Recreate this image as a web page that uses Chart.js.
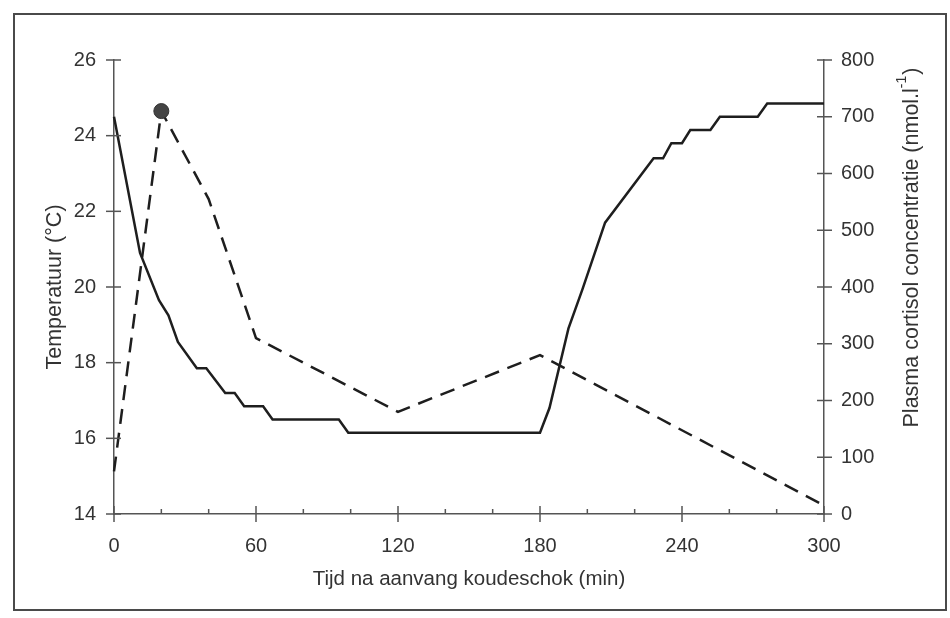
<!DOCTYPE html>
<html><head><meta charset="utf-8">
<script src="https://cdn.jsdelivr.net/npm/chart.js@4.4.0/dist/chart.umd.min.js"></script>
<style>html,body{margin:0;padding:0;background:#fff}canvas{display:block}</style>
</head><body>
<canvas id="c" width="950" height="618"></canvas>
<script>
// ---- data ----
const tempTimes  = [0, 11, 19, 23, 27, 35, 39, 47, 51, 55, 63, 67, 95, 99, 180, 184, 192, 198, 207.5, 228, 232, 235.5, 240, 243.5, 252, 256, 272, 276, 300];
const tempValues = [24.5, 20.9, 19.65, 19.25, 18.55, 17.85, 17.85, 17.2, 17.2, 16.85, 16.85, 16.5, 16.5, 16.15, 16.15, 16.8, 18.9, 19.95, 21.7, 23.4, 23.4, 23.8, 23.8, 24.15, 24.15, 24.5, 24.5, 24.85, 24.85];
const cortisolTimes  = [0, 20, 40, 60, 120, 180, 300];
const cortisolValues = [75, 710, 555, 310, 180, 280, 15];
const xLabelTicks = [0, 60, 120, 180, 240, 300];
const xTitle = 'Tijd na aanvang koudeschok (min)';
const leftTitle = 'Temperatuur (°C)';
const rightTitleMain = 'Plasma cortisol concentratie (nmol.l';
const rightTitleSup = '-1';
const rightTitleEnd = ')';

const FONT = "'Liberation Sans', Arial, sans-serif";
const AXIS = '#555';
const TEXT = '#333';
const peakIndex = cortisolValues.indexOf(Math.max(...cortisolValues));

const tickPlugin = {
  id: 'ticksAndFrame',
  beforeDraw(chart) {
    const ctx = chart.ctx;
    ctx.save();
    ctx.fillStyle = '#fff';
    ctx.fillRect(0, 0, chart.width, chart.height);
    ctx.strokeStyle = '#4a4a4a';
    ctx.lineWidth = 2;
    ctx.strokeRect(14, 14, 932, 596);
    ctx.restore();
  },
  afterDraw(chart) {
    const ctx = chart.ctx;
    const {x, y, y2} = chart.scales;
    ctx.save();
    ctx.strokeStyle = AXIS;
    ctx.lineWidth = 1.5;
    const line = (a, b, c, d) => { ctx.beginPath(); ctx.moveTo(a, b); ctx.lineTo(c, d); ctx.stroke(); };
    y.ticks.forEach(t => { const p = y.getPixelForValue(t.value); line(y.right - 8, p, y.right + 7, p); });
    y2.ticks.forEach(t => { const p = y2.getPixelForValue(t.value); line(y2.left - 7, p, y2.left + 8, p); });
    x.ticks.forEach(t => {
      const p = x.getPixelForValue(t.value);
      if (xLabelTicks.includes(t.value)) line(p, x.top - 8, p, x.top + 8);
      else line(p, x.top - 5, p, x.top);
    });
    // right axis title, reading bottom to top
    ctx.fillStyle = TEXT;
    ctx.translate(912, 248);
    ctx.rotate(-Math.PI / 2);
    ctx.font = '21.5px ' + FONT;
    const w1 = ctx.measureText(rightTitleMain).width;
    ctx.font = '14px ' + FONT;
    const w2 = ctx.measureText(rightTitleSup).width;
    ctx.font = '21.5px ' + FONT;
    const w3 = ctx.measureText(rightTitleEnd).width;
    let sx = -(w1 + w2 + w3) / 2;
    ctx.textBaseline = 'middle';
    ctx.textAlign = 'left';
    ctx.fillText(rightTitleMain, sx, 0);
    ctx.font = '14px ' + FONT;
    ctx.fillText(rightTitleSup, sx + w1, -10);
    ctx.font = '21.5px ' + FONT;
    ctx.fillText(rightTitleEnd, sx + w1 + w2 + 1, 0);
    ctx.restore();
  }
};

new Chart(document.getElementById('c'), {
  type: 'line',
  data: {
    datasets: [
      {
        label: 'Temperatuur',
        data: tempTimes.map((t, i) => ({x: t, y: tempValues[i]})),
        yAxisID: 'y',
        borderColor: '#1e1e1e',
        borderWidth: 2.5,
        pointRadius: 0,
        tension: 0,
        clip: false
      },
      {
        label: 'Cortisol',
        data: cortisolTimes.map((t, i) => ({x: t, y: cortisolValues[i]})),
        yAxisID: 'y2',
        borderColor: '#1e1e1e',
        borderWidth: 2.5,
        borderDash: [15, 9],
        pointRadius: ctx => ctx.dataIndex === peakIndex ? 7.5 : 0,
        pointBackgroundColor: '#444',
        pointBorderColor: '#333',
        pointBorderWidth: 1,
        tension: 0,
        clip: false
      }
    ]
  },
  options: {
    responsive: false,
    animation: false,
    devicePixelRatio: 1,
    layout: {padding: {top: 60, left: 0, right: 0, bottom: 0}},
    plugins: {legend: {display: false}, tooltip: {enabled: false}},
    scales: {
      x: {
        type: 'linear', position: 'bottom', min: 0, max: 300,
        afterFit: s => { s.height = 104; },
        ticks: {stepSize: 20, autoSkip: false, maxRotation: 0, padding: 20, color: TEXT,
          font: {family: FONT, size: 20},
          callback: v => xLabelTicks.includes(v) ? String(v) : ''},
        grid: {display: false, drawTicks: false},
        border: {display: true, color: AXIS, width: 1.5},
        title: {display: true, text: xTitle, color: TEXT, font: {family: FONT, size: 20.5}, padding: {top: 0, bottom: 26}}
      },
      y: {
        type: 'linear', position: 'left', min: 14, max: 26,
        afterFit: s => { s.width = 114; },
        ticks: {stepSize: 2, padding: 18, color: TEXT, font: {family: FONT, size: 20}},
        grid: {display: false, drawTicks: false},
        border: {display: true, color: AXIS, width: 1.5},
        title: {display: true, text: leftTitle, color: TEXT, font: {family: FONT, size: 21.5}, padding: {top: 42, bottom: 0}}
      },
      y2: {
        type: 'linear', position: 'right', min: 0, max: 800,
        afterFit: s => { s.width = 126; },
        ticks: {stepSize: 100, padding: 17, color: TEXT, font: {family: FONT, size: 20}},
        grid: {display: false, drawTicks: false},
        border: {display: true, color: AXIS, width: 1.5}
      }
    }
  },
  plugins: [tickPlugin]
});
</script>
</body></html>
